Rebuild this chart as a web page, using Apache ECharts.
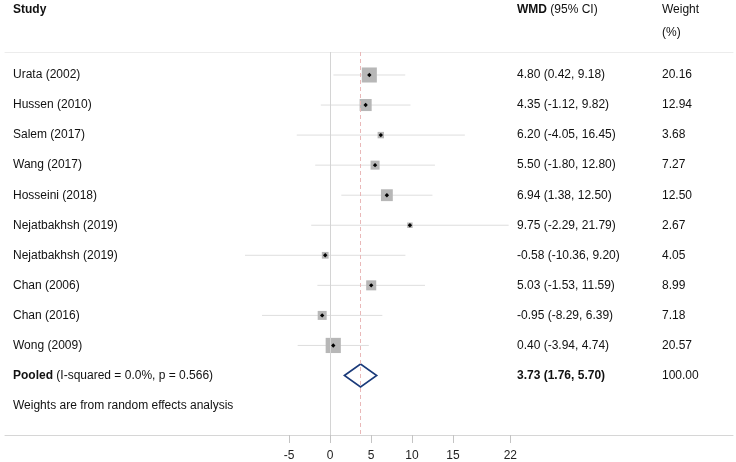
<!DOCTYPE html>
<html>
<head>
<meta charset="utf-8">
<script src="https://cdn.jsdelivr.net/npm/echarts@6/dist/echarts.min.js"></script>
<style>html,body{margin:0;padding:0;background:#fff;}#c{width:736px;height:462px;}</style>
</head>
<body>
<div id="c"></div>
<script>
var studies = ['Urata (2002)','Hussen (2010)','Salem (2017)','Wang (2017)','Hosseini (2018)','Nejatbakhsh (2019)','Nejatbakhsh (2019)','Chan (2006)','Chan (2016)','Wong (2009)'];
var wmd = [4.80, 4.35, 6.20, 5.50, 6.94, 9.75, -0.58, 5.03, -0.95, 0.40];
var lower = [0.42, -1.12, -4.05, -1.80, 1.38, -2.29, -10.36, -1.53, -8.29, -3.94];
var upper = [9.18, 9.82, 16.45, 12.80, 12.50, 21.79, 9.20, 11.59, 6.39, 4.74];
var weights = [20.16, 12.94, 3.68, 7.27, 12.50, 2.67, 4.05, 8.99, 7.18, 20.57];
var pooledEst = 3.73, pooledLo = 1.76, pooledHi = 5.70;
var pooledLabel = 'Pooled';
var pooledStats = ' (I-squared = 0.0%, p = 0.566)';
var footnote = 'Weights are from random effects analysis';
var xTicks = [-5, 0, 5, 10, 15, 22];

var FONT = 'Arial, "Liberation Sans", Helvetica, sans-serif';
var n = studies.length;
var rows = [];
for (var i = 0; i < n; i++) rows.push([wmd[i], i, lower[i], upper[i], weights[i]]);
function fmt(v){ return v.toFixed(2); }

var textRows = [];
for (var i = 0; i < n; i++) {
  textRows.push({value:[0, i], study: studies[i], ci: fmt(wmd[i]) + ' (' + fmt(lower[i]) + ', ' + fmt(upper[i]) + ')', w: fmt(weights[i]), bold:false});
}
textRows.push({value:[0, n], pooled:true, ci: fmt(pooledEst) + ' (' + fmt(pooledLo) + ', ' + fmt(pooledHi) + ')', w: fmt(100)});
textRows.push({value:[0, n+1], study: footnote, ci:'', w:''});

var chart = echarts.init(document.getElementById('c'), null, {renderer:'canvas'});
var opt = {
  animation:false,
  backgroundColor:'#fff',
  grid:{left:5, right:3, top:52, bottom:27},
  xAxis:[{
    type:'value', min:-39.63, max:49.15,
    axisLine:{show:true, onZero:false, lineStyle:{color:'#d6d6d6', width:1}},
    axisTick:{show:true, inside:false, customValues:xTicks, length:8, lineStyle:{color:'#c4c4c4', width:1}},
    axisLabel:{show:true, customValues:xTicks, color:'#222', fontSize:12, fontFamily:FONT, margin:15},
    splitLine:{show:false}
  },{
    type:'value', position:'top', min:-39.63, max:49.15,
    axisLine:{show:true, onZero:false, lineStyle:{color:'#ececec', width:1}},
    axisTick:{show:false}, axisLabel:{show:false}, splitLine:{show:false}
  }],
  yAxis:{type:'value', inverse:true, min:-0.765, max:11.98, show:false},
  series:[
    {
      type:'custom', name:'ci',
      data: rows,
      renderItem:function(params, api){
        var a = api.coord([api.value(2), api.value(1)]);
        var b = api.coord([api.value(3), api.value(1)]);
        return {type:'line', shape:{x1:a[0], y1:a[1], x2:b[0], y2:b[1]}, style:{stroke:'#dedede', lineWidth:1}};
      },
      markLine:{
        silent:true, symbol:'none', label:{show:false},
        data:[
          {xAxis:0, lineStyle:{color:'#d4d4d4', type:'solid', width:1}},
          {xAxis:pooledEst, lineStyle:{color:'#e9b8b8', type:[4,3], width:1}}
        ]
      }
    },
    {
      type:'custom', name:'box',
      data: rows,
      renderItem:function(params, api){
        var c = api.coord([api.value(0), api.value(1)]);
        var s = 3.35 * Math.sqrt(api.value(4));
        return {type:'group', children:[
          {type:'rect', shape:{x:c[0]-s/2, y:c[1]-s/2, width:s, height:s}, style:{fill:'#b7b7b7'}},
          {type:'polygon', shape:{points:[[c[0],c[1]-2.2],[c[0]+2.2,c[1]],[c[0],c[1]+2.2],[c[0]-2.2,c[1]]]}, style:{fill:'#000'}}
        ]};
      }
    },
    {
      type:'custom', name:'pooled',
      data:[[pooledEst, n, pooledLo, pooledHi]],
      renderItem:function(params, api){
        var c = api.coord([api.value(0), api.value(1)]);
        var l = api.coord([api.value(2), api.value(1)]);
        var r = api.coord([api.value(3), api.value(1)]);
        var h = 11.5;
        return {type:'polygon', shape:{points:[[l[0],c[1]],[c[0],c[1]-h],[r[0],c[1]],[c[0],c[1]+h]]}, style:{fill:'#fff', stroke:'#1a3a7a', lineWidth:1.6}};
      }
    },
    {
      type:'custom', name:'table',
      data: textRows,
      renderItem:function(params, api){
        var d = textRows[params.dataIndex];
        var y = api.coord([0, api.value(1)])[1];
        var ch = [];
        if (d.pooled) {
          ch.push({type:'text', x:13, y:y, style:{text:'{b|' + pooledLabel + '}{n|' + pooledStats + '}', rich:{b:{fontWeight:'bold', fontSize:12, fontFamily:FONT, fill:'#111'}, n:{fontSize:12, fontFamily:FONT, fill:'#111'}}, verticalAlign:'middle', fontSize:12, fontFamily:FONT}});
          ch.push({type:'text', x:517, y:y, style:{text:d.ci, fontWeight:'bold', fontSize:12, fontFamily:FONT, fill:'#111', verticalAlign:'middle'}});
        } else {
          ch.push({type:'text', x:13, y:y, style:{text:d.study, fontSize:12, fontFamily:FONT, fill:'#111', verticalAlign:'middle'}});
          ch.push({type:'text', x:517, y:y, style:{text:d.ci, fontSize:12, fontFamily:FONT, fill:'#111', verticalAlign:'middle'}});
        }
        ch.push({type:'text', x:662, y:y, style:{text:d.w, fontSize:12, fontFamily:FONT, fill:'#111', verticalAlign:'middle'}});
        return {type:'group', children:ch};
      }
    }
  ],
  graphic:[
    {type:'text', left:13, top:4, style:{text:'Study', fontWeight:'bold', fontSize:12, fontFamily:FONT, fill:'#111'}},
    {type:'text', left:517, top:4, style:{text:'{b|WMD}{n| (95% CI)}', rich:{b:{fontWeight:'bold', fontSize:12, fontFamily:FONT, fill:'#111'}, n:{fontSize:12, fontFamily:FONT, fill:'#111'}}}},
    {type:'text', left:662, top:4, style:{text:'Weight', fontSize:12, fontFamily:FONT, fill:'#111'}},
    {type:'text', left:662, top:27, style:{text:'(%)', fontSize:12, fontFamily:FONT, fill:'#111'}}
  ]
};
chart.setOption(opt);
</script>
</body>
</html>
